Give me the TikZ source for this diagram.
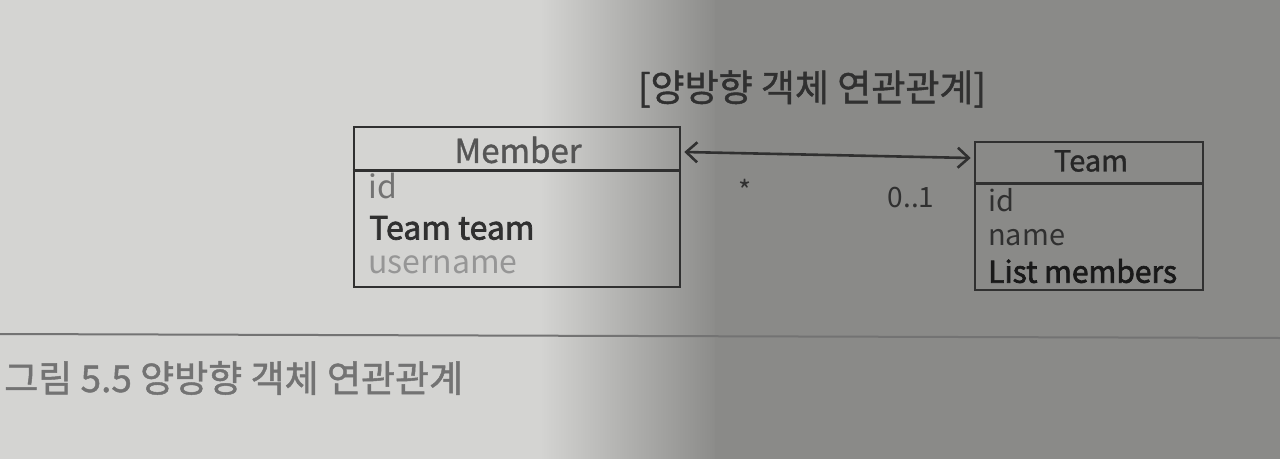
\documentclass[tikz,border=0pt]{standalone}
\usepackage{fontspec}
\setmainfont{Noto Sans CJK KR}
\newfontfamily\medfont[FakeBold=1.2]{Noto Sans CJK KR}
\newfontfamily\semifont[FakeBold=2.2]{Noto Sans CJK KR}
\usetikzlibrary{arrows.meta,calc}
\definecolor{bgl}{RGB}{212,212,210}
\definecolor{bgd}{RGB}{138,138,136}
\definecolor{ink}{RGB}{48,48,48}
\definecolor{inkl}{RGB}{85,85,85}
\definecolor{inkll}{RGB}{115,115,115}
\tikzset{
  umlbox/.style={draw=ink, line width=2.6pt, rectangle, inner sep=0pt},
  field/.style={anchor=west, inner sep=0pt},
  mfield/.style={field, font=\fontsize{32}{34}\selectfont},
  tfield/.style={field, font=\fontsize{29}{31}\selectfont},
  ctitle/.style={inner sep=0pt},
  divider/.style={draw=ink, line width=2.6pt},
  assoc/.style={draw=ink, line width=2.6pt, {Straight Barb[length=11pt,width=20pt,line width=2.6pt]}-{Straight Barb[length=11pt,width=20pt,line width=2.6pt]}},
  mult/.style={inner sep=0pt, text=ink, font=\fontsize{28}{30}\selectfont}
}
\begin{document}
\begin{tikzpicture}[x=1pt,y=-1pt]
\useasboundingbox (0,0) rectangle (1280,458);
% background (photo lighting)
\fill[bgl] (-5,-5) rectangle (545,465);
\shade[left color=bgl, right color=bgd] (540,-5) rectangle (720,465);
\fill[bgd] (715,-5) rectangle (1285,465);
% page rule and caption
\draw[inkll, line width=2pt] (0,334) -- (1280,338);
\node[anchor=west, inner sep=0pt, text=inkll, font=\medfont\fontsize{37}{39}\selectfont] (caption) at (4,378) {그림 5.5 양방향 객체 연관관계};
% diagram title
\node[inner sep=0pt, text=ink, font=\medfont\fontsize{37}{39}\selectfont] (title) at (812,89) {[양방향 객체 연관관계]};
% Member class
\node[umlbox, minimum width=326pt, minimum height=160pt] (member) at (517,207) {};
\draw[divider] ($(member.north west)+(0,45)$) coordinate (mdl) -- ($(member.north east)+(0,45)$) coordinate (mdr);
\node[ctitle, text=inkl, font=\medfont\fontsize{33}{35}\selectfont] (mtitle) at (518,150) {Member};
\node[mfield, text=inkll] (mid) at (368,186) {id};
\node[field, text=ink, font=\semifont\fontsize{32}{34}\selectfont] (mteam) at (369,228) {Team team};
\node[mfield, text=inkll!75!white] (muser) at (368,265) {username};
% Team class
\node[umlbox, minimum width=228pt, minimum height=148pt] (team) at (1089,216) {};
\draw[divider] ($(team.north west)+(0,43)$) coordinate (tdl) -- ($(team.north east)+(0,43)$) coordinate (tdr);
\node[ctitle, text=black!85, font=\medfont\fontsize{29}{31}\selectfont] (ttitle) at (1091,161) {Team};
\node[tfield, text=ink] (tid) at (988,200) {id};
\node[tfield, text=ink] (tname) at (988,238) {name};
\node[field, text=black!90, font=\semifont\fontsize{30}{32}\selectfont] (tlist) at (988,271) {List members};
% association
\draw[assoc] ([xshift=3pt,yshift=55pt]member.east) -- ([xshift=-3pt,yshift=58pt]team.west);
\node[mult] (mstar) at (745,190) {*};
\node[mult] (mone) at (911,198) {0..1};
\end{tikzpicture}
\end{document}
